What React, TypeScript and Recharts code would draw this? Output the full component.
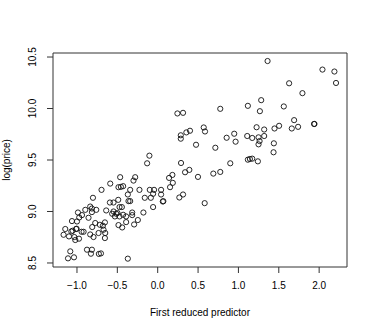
import { ScatterChart, Scatter, XAxis, YAxis, ReferenceArea } from 'recharts';

// First reduced predictor (x) and log(price) (y)
const predictor = [
  1.361, 2.041, 2.189, 2.209, 1.628, 1.793, 0.244, 0.314, 0.775, 1.117,
  1.282, 1.266, 1.562, 1.69, 1.661, 1.739, 1.504, 1.447, 1.937, 1.942,
  1.319, 1.225, 0.286, 0.286, 0.355, 0.4, 0.57, 0.586, 0.475, 0.714,
  0.854, 0.948, 0.965, 1.109, 1.171, 1.249, 1.262, 1.249, 1.319, 1.439,
  1.435, 1.117, 1.142, 1.171, 1.241, 0.899, 0.289, -0.131, -0.103, 0.339,
  0.392, 0.689, 0.775, 0.499, -0.465, -0.279, 0.141, 0.182, -0.588, -0.486,
  -0.456, -0.428, -0.3, -0.696, -0.802, -0.37, -0.341, -0.226, -0.098, -0.045,
  0.042, 0.042, -0.16, -0.085, -0.057, 0.187, 0.153, 0.268, 0.314, 0.063,
  0.07, 0.582, -0.341, -0.362, -0.057, -0.177, -0.246, -0.292, -0.316, -0.316,
  -0.391, -0.391, -0.44, -0.486, -0.37, -0.473, -0.444, -0.489, -0.547, -0.592,
  -0.547, -0.514, -0.564, -0.53, -0.498, -0.473, -0.428, -0.638, -0.761, -0.836,
  -0.815, -0.815, -0.897, -0.988, -0.938, -0.972, -0.857, -0.774, -0.716, -0.654,
  -0.679, -0.811, -0.671, -0.65, -0.654, -0.733, -0.795, -0.836, -0.943, -0.918,
  -1.005, -1.062, -1.0, -1.145, -1.166, -1.099, -1.07, -1.054, -1.033, -1.021,
  -0.975, -1.083, -1.111, -1.037, -0.876, -0.815, -0.827, -0.729, -0.703, -1.01,
];
const logPrice = [
  10.461, 10.378, 10.359, 10.248, 10.245, 10.149, 9.952, 9.958, 9.997, 10.026,
  10.081, 9.974, 10.02, 9.887, 9.806, 9.822, 9.832, 9.806, 9.85, 9.85,
  9.796, 9.818, 9.74, 9.707, 9.768, 9.784, 9.816, 9.777, 9.648, 9.619,
  9.716, 9.755, 9.678, 9.733, 9.714, 9.72, 9.684, 9.652, 9.733, 9.662,
  9.575, 9.503, 9.51, 9.513, 9.487, 9.468, 9.471, 9.468, 9.542, 9.381,
  9.404, 9.368, 9.384, 9.336, 9.333, 9.333, 9.326, 9.355, 9.271, 9.236,
  9.239, 9.246, 9.3, 9.21, 9.133, 9.165, 9.21, 9.21, 9.21, 9.21,
  9.21, 9.165, 9.133, 9.133, 9.172, 9.278, 9.236, 9.136, 9.165, 9.097,
  9.1, 9.081, 9.101, 9.101, 9.043, 8.99, 8.917, 8.874, 8.965, 8.99,
  8.952, 8.897, 8.845, 8.868, 8.542, 9.043, 9.043, 9.113, 9.087, 9.087,
  9.0, 8.978, 8.978, 8.952, 8.985, 8.952, 8.968, 9.01, 9.016, 9.048,
  9.029, 8.994, 9.016, 8.99, 8.965, 8.942, 8.939, 8.888, 8.871, 8.894,
  8.862, 8.849, 8.823, 8.791, 8.742, 8.791, 8.752, 8.777, 8.803, 8.803,
  8.833, 8.907, 8.903, 8.83, 8.774, 8.758, 8.806, 8.813, 8.752, 8.723,
  8.736, 8.613, 8.545, 8.555, 8.629, 8.629, 8.59, 8.588, 8.593, 8.83,
];

const xTicks = [-1, -0.5, 0, 0.5, 1, 1.5, 2];
const yTicks = [8.5, 9, 9.5, 10, 10.5];

const points = predictor.map((x, i) => ({ x, y: logPrice[i] }));

const FONT = '"Liberation Sans", Arial, sans-serif';

const fmt = (v: number) => v.toFixed(1).replace('-', '\u2212');

const XTick = (props: any) => {
  const { x, y, payload } = props;
  return (
    <text x={x} y={y + 14} textAnchor="middle" fontFamily={FONT} fontSize={10} fill="#000">
      {fmt(payload.value)}
    </text>
  );
};

const YTick = (props: any) => {
  const { x, y, payload } = props;
  const cx = x - 9;
  return (
    <text x={cx} y={y} transform={`rotate(-90, ${cx}, ${y})`} textAnchor="middle"
      fontFamily={FONT} fontSize={10} fill="#000">
      {fmt(payload.value)}
    </text>
  );
};

const Ring = (props: any) => (
  <circle cx={props.cx} cy={props.cy} r={2.6} fill="none" stroke="#111" strokeWidth={0.9} />
);

export default function App() {
  return (
    <div style={{ position: 'absolute', left: 0, top: 0, background: '#fff' }}>
      <ScatterChart width={374} height={333} margin={{ top: 53, right: 27, bottom: 0, left: 0 }}>
        <XAxis type="number" dataKey="x" domain={[-1.297, 2.345]} ticks={xTicks}
          axisLine={false} tickSize={6} tickLine={{ stroke: '#333' }} tick={<XTick />}
          interval={0} allowDataOverflow height={66} />
        <YAxis type="number" dataKey="y" domain={[8.461, 10.539]} ticks={yTicks}
          axisLine={false} tickSize={6} tickLine={{ stroke: '#333' }} tick={<YTick />}
          interval={0} allowDataOverflow width={53} />
        <ReferenceArea x1={-1.297} x2={2.345} y1={8.461} y2={10.539} fill="none"
          stroke="#333" strokeWidth={1} ifOverflow="visible" />
        <Scatter data={points} shape={<Ring />} isAnimationActive={false} />
        <text x={200} y={316} textAnchor="middle" fontFamily={FONT} fontSize={10} fill="#000">
          First reduced predictor
        </text>
        <text x={10} y={160} transform="rotate(-90, 10, 160)" textAnchor="middle"
          fontFamily={FONT} fontSize={10} fill="#000">
          log(price)
        </text>
      </ScatterChart>
    </div>
  );
}
